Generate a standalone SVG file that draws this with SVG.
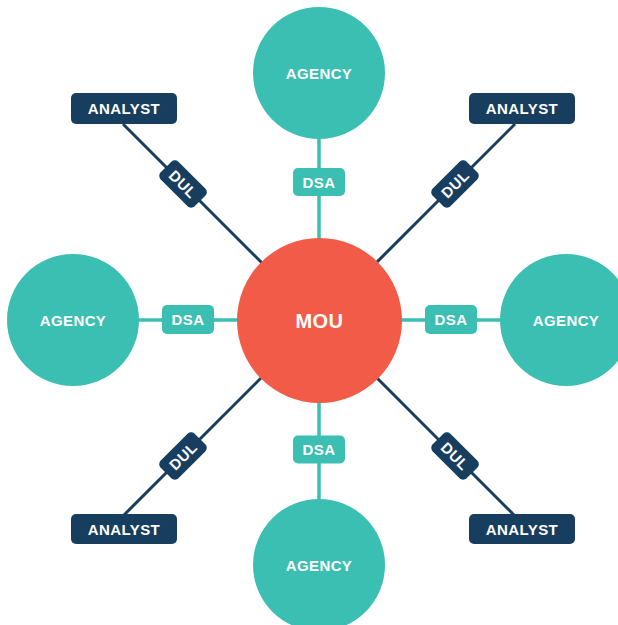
<svg xmlns="http://www.w3.org/2000/svg" width="618" height="625" viewBox="0 0 618 625">
  <style>
    .teal { fill: #3bbfb2; }
    .navy { fill: #173e5e; }
    .mou { fill: #f15b47; }
    .lbl { font-family: "Liberation Sans", Arial, sans-serif; font-weight: bold; fill: #ffffff; text-anchor: middle; letter-spacing: 0.4px; }
    .s15 { font-size: 15px; }
    .s20 { font-size: 20px; }
    .link-teal { stroke: #3bbfb2; stroke-width: 3.5; fill: none; }
    .link-navy { stroke: #173e5e; stroke-width: 3; fill: none; }
  </style>

  <!-- connectors: agreements radiating out from the MOU hub -->
  <g id="connectors">
    <line class="link-teal" x1="319" y1="320" x2="319" y2="120"/>
    <line class="link-teal" x1="319" y1="320" x2="319" y2="520"/>
    <line class="link-teal" x1="319" y1="320" x2="120" y2="320"/>
    <line class="link-teal" x1="319" y1="320" x2="518" y2="320"/>
    <line class="link-navy" x1="319" y1="320" x2="123" y2="124"/>
    <line class="link-navy" x1="319" y1="320" x2="515" y2="124"/>
    <line class="link-navy" x1="319" y1="320" x2="123" y2="516"/>
    <line class="link-navy" x1="319" y1="320" x2="515" y2="516"/>
  </g>

  <!-- agencies -->
  <g id="agency-top">
    <circle class="teal" cx="319" cy="73" r="66"/>
    <text class="lbl s15" x="319" y="78.5">AGENCY</text>
  </g>
  <g id="agency-left">
    <circle class="teal" cx="73" cy="320" r="66"/>
    <text class="lbl s15" x="73" y="325.5">AGENCY</text>
  </g>
  <g id="agency-right">
    <circle class="teal" cx="566" cy="320" r="66"/>
    <text class="lbl s15" x="566" y="325.5">AGENCY</text>
  </g>
  <g id="agency-bottom">
    <circle class="teal" cx="319" cy="565" r="66"/>
    <text class="lbl s15" x="319" y="570.5">AGENCY</text>
  </g>

  <!-- central memorandum of understanding -->
  <g id="mou">
    <circle class="mou" cx="319.5" cy="320.5" r="82.5"/>
    <text class="lbl s20" x="319.5" y="328">MOU</text>
  </g>

  <!-- data sharing agreements -->
  <g id="dsa-top">
    <rect class="teal" x="293" y="168" width="52" height="28" rx="5"/>
    <text class="lbl s15" x="319" y="187.5">DSA</text>
  </g>
  <g id="dsa-bottom">
    <rect class="teal" x="293" y="435.5" width="52" height="28" rx="5"/>
    <text class="lbl s15" x="319" y="455">DSA</text>
  </g>
  <g id="dsa-left">
    <rect class="teal" x="162" y="305" width="52" height="29" rx="5"/>
    <text class="lbl s15" x="188" y="325">DSA</text>
  </g>
  <g id="dsa-right">
    <rect class="teal" x="425" y="305" width="52" height="29" rx="5"/>
    <text class="lbl s15" x="451" y="325">DSA</text>
  </g>

  <!-- data use licences, aligned with their links -->
  <g id="dul-top-left" transform="translate(183,184) rotate(45)">
    <rect class="navy" x="-24" y="-12.5" width="48" height="25" rx="5"/>
    <text class="lbl s15" x="0" y="5.5">DUL</text>
  </g>
  <g id="dul-top-right" transform="translate(455,184) rotate(-45)">
    <rect class="navy" x="-24" y="-12.5" width="48" height="25" rx="5"/>
    <text class="lbl s15" x="0" y="5.5">DUL</text>
  </g>
  <g id="dul-bottom-left" transform="translate(183,456) rotate(-45)">
    <rect class="navy" x="-24" y="-12.5" width="48" height="25" rx="5"/>
    <text class="lbl s15" x="0" y="5.5">DUL</text>
  </g>
  <g id="dul-bottom-right" transform="translate(455,456) rotate(45)">
    <rect class="navy" x="-24" y="-12.5" width="48" height="25" rx="5"/>
    <text class="lbl s15" x="0" y="5.5">DUL</text>
  </g>

  <!-- analysts -->
  <g id="analyst-top-left">
    <rect class="navy" x="71" y="93" width="106" height="31" rx="5"/>
    <text class="lbl s15" x="124" y="114">ANALYST</text>
  </g>
  <g id="analyst-top-right">
    <rect class="navy" x="469" y="93" width="106" height="31" rx="5"/>
    <text class="lbl s15" x="522" y="114">ANALYST</text>
  </g>
  <g id="analyst-bottom-left">
    <rect class="navy" x="71" y="514" width="106" height="30" rx="5"/>
    <text class="lbl s15" x="124" y="534.5">ANALYST</text>
  </g>
  <g id="analyst-bottom-right">
    <rect class="navy" x="469" y="514" width="106" height="30" rx="5"/>
    <text class="lbl s15" x="522" y="534.5">ANALYST</text>
  </g>
</svg>
